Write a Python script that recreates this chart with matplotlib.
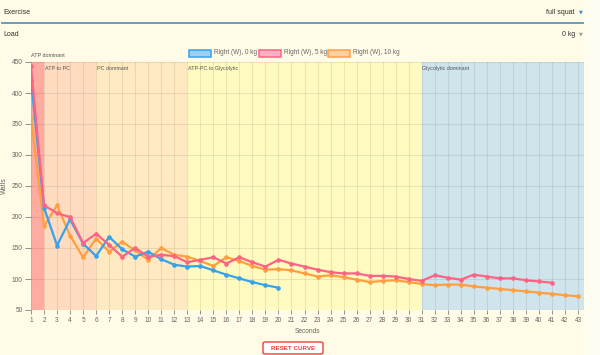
import matplotlib
matplotlib.use('Agg')
import matplotlib.pyplot as plt
from matplotlib.patches import Rectangle, FancyBboxPatch

plt.rcParams['font.family'] = ['Liberation Sans', 'DejaVu Sans']

# Data
seconds_0kg = list(range(1, 21))
watts_0kg = [421, 215, 154, 196, 157, 137, 168, 148, 136, 144, 132, 123, 120, 121,
             114, 107, 101, 95, 90, 86]

seconds_5kg = list(range(1, 42))
watts_5kg = [443, 219, 206, 200, 158, 173, 155, 136, 150, 136, 139, 137, 127, 131,
             135, 125, 135, 127, 120, 131, 125, 120, 115, 111, 109, 109, 105, 105,
             104, 100, 97, 106, 102, 99, 107, 104, 101, 101, 98, 96, 94]

seconds_10kg = list(range(1, 44))
watts_10kg = [360, 185, 219, 170, 135, 165, 144, 160, 146, 131, 150, 139, 136, 129,
              121, 135, 129, 121, 115, 116, 114, 109, 104, 106, 103, 99, 95, 97,
              98, 95, 92, 90, 91, 91, 88, 86, 84, 82, 80, 78, 76, 74, 72]

zone_names = ['ATP dominant', 'ATP to PC', 'PC dominant', 'ATP-PC to Glycolytic',
              'Glycolytic dominant']
zone_starts = [1, 2, 6, 13, 31]
zone_ends = [2, 6, 13, 31, 43.46]
zone_colors = ['#ffaba0', '#ffdcc0', '#ffe9c0', '#fffac0', '#d0e4ec']

bg = '#fffbe6'
fig = plt.figure(figsize=(6, 3.55), dpi=100)
fig.patch.set_facecolor(bg)

# right page strip
fig.patches.append(Rectangle((585 / 600, 0), 15 / 600, 1, transform=fig.transFigure,
                             color='#fffdf2', zorder=0))

# header controls
fig.text(3 / 600, 1 - 12 / 355, 'Exercise', fontsize=5, color='#333333', va='center')
fig.text(575 / 600, 1 - 12 / 355, 'full squat', fontsize=5, color='#333333',
         va='center', ha='right')
fig.text(581 / 600, 1 - 12 / 355, '▼', fontsize=3.5, color='#3a86c8', va='center',
         ha='center', family='DejaVu Sans')
fig.add_artist(plt.Line2D([2 / 600, 583 / 600], [1 - 23 / 355, 1 - 23 / 355],
                          color='#5b93bd', lw=1.3))
fig.text(3 / 600, 1 - 34 / 355, 'Load', fontsize=5, color='#333333', va='center')
fig.text(575 / 600, 1 - 34 / 355, '0 kg', fontsize=5, color='#333333',
         va='center', ha='right')
fig.text(581 / 600, 1 - 34 / 355, '▼', fontsize=3.5, color='#999999', va='center',
         ha='center', family='DejaVu Sans')

ax = fig.add_axes([31 / 600, 1 - 310 / 355, 553 / 600, 248 / 355])
ax.set_facecolor(bg)

for name, x0, x1, c in zip(zone_names, zone_starts, zone_ends, zone_colors):
    ax.axvspan(x0, x1, color=c, zorder=0, lw=0)

ax.set_xlim(1, 43.46)
ax.set_ylim(50, 450)
ax.set_xticks(range(1, 44))
ax.set_yticks(range(50, 451, 50))
ax.grid(True, color='black', alpha=0.08, lw=0.8)
ax.set_axisbelow(True)
for s in ax.spines.values():
    s.set_visible(False)
ax.tick_params(labelsize=4.7, colors='#666666', length=3, width=0.5, pad=2)
ax.tick_params(axis='y', length=4)

ax.plot(seconds_0kg, watts_0kg, color='#36a2eb', lw=1.6, marker='o', ms=2.3, zorder=3)
ax.plot(seconds_5kg, watts_5kg, color='#ff6384', lw=1.6, marker='o', ms=2.3, zorder=3)
ax.plot(seconds_10kg, watts_10kg, color='#ff9f40', lw=1.6, marker='o', ms=2.3, zorder=2)

ax.set_xlabel('Seconds', fontsize=4.8, color='#666666', labelpad=3)
ax.set_ylabel('Watts', fontsize=4.8, color='#666666')
ax.yaxis.set_label_coords(-0.042, 0.5)

# zone labels
ax.text(1, 1.027, zone_names[0], transform=ax.get_xaxis_transform(), fontsize=3.9,
        color='#555555', va='center')
for name, x0 in zip(zone_names[1:], zone_starts[1:]):
    ax.text(x0 + 0.05, 0.972, name, transform=ax.get_xaxis_transform(), fontsize=3.9,
            color='#555555', va='center')

# legend
legend_labels = ['Right (W), 0 kg', 'Right (W), 5 kg', 'Right (W), 10 kg']
legend_colors = ['#36a2eb', '#ff6384', '#ff9f40']
legend_fill = ['#9ad0f5', '#ffb1c1', '#ffcf9f']
box_x = [189, 259, 328]
for lab, c, f, x in zip(legend_labels, legend_colors, legend_fill, box_x):
    fig.patches.append(Rectangle((x / 600, 1 - 56.5 / 355), 22 / 600, 6.5 / 355,
                                 transform=fig.transFigure, facecolor=f,
                                 edgecolor=c, lw=1.1))
    fig.text((x + 25) / 600, 1 - 53 / 355, lab, fontsize=4.7, color='#666666', va='center')

# reset button
fig.patches.append(FancyBboxPatch((263 / 600, 1 - 354 / 355), 60 / 600, 12 / 355,
                                  boxstyle='round,pad=0,rounding_size=0.004',
                                  transform=fig.transFigure, facecolor='white',
                                  edgecolor='#f03c3c', lw=1))
fig.text(293 / 600, 1 - 348 / 355, 'RESET CURVE', fontsize=4.5, color='#f03c3c',
         ha='center', va='center', fontweight='bold')

fig.savefig('out.png', dpi=100, facecolor=fig.get_facecolor())
